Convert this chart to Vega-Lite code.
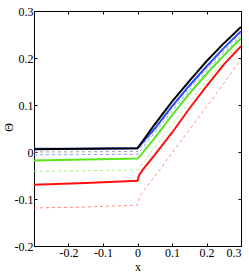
{
  "$schema": "https://vega.github.io/schema/vega-lite/v6.json",
  "width": 207,
  "height": 235,
  "autosize": {"type": "none"},
  "padding": {"left": 34, "top": 11, "right": 8, "bottom": 31},
  "background": "white",
  "config": {
    "view": {"stroke": "#000", "strokeWidth": 1},
    "axis": {
      "grid": false,
      "labelFont": "Liberation Sans Narrow",
      "labelFontSize": 12,
      "labelColor": "#000",
      "titleFont": "Liberation Sans Narrow",
      "titleFontSize": 12,
      "titleFontWeight": "normal",
      "titleColor": "#000",
      "domainColor": "#000",
      "tickColor": "#000",
      "tickSize": -3,
      "labelPadding": 4
    }
  },
  "data": {"values": [
    {"s": "1rd", "x": -0.3, "y": -0.119}, {"s": "1rd", "x": -0.15, "y": -0.117}, {"s": "1rd", "x": 0, "y": -0.113},
    {"s": "1rd", "x": 0.005, "y": -0.097}, {"s": "1rd", "x": 0.012, "y": -0.088}, {"s": "1rd", "x": 0.05, "y": -0.052},
    {"s": "1rd", "x": 0.1, "y": -0.002}, {"s": "1rd", "x": 0.15, "y": 0.047}, {"s": "1rd", "x": 0.2, "y": 0.096},
    {"s": "1rd", "x": 0.25, "y": 0.146}, {"s": "1rd", "x": 0.3, "y": 0.197},

    {"s": "2gd", "x": -0.3, "y": -0.041}, {"s": "2gd", "x": -0.15, "y": -0.04}, {"s": "2gd", "x": 0, "y": -0.038},
    {"s": "2gd", "x": 0.01, "y": -0.029}, {"s": "2gd", "x": 0.05, "y": 0.01}, {"s": "2gd", "x": 0.1, "y": 0.058},
    {"s": "2gd", "x": 0.15, "y": 0.106}, {"s": "2gd", "x": 0.2, "y": 0.151}, {"s": "2gd", "x": 0.25, "y": 0.193},
    {"s": "2gd", "x": 0.3, "y": 0.233},

    {"s": "3bd", "x": -0.3, "y": -0.006}, {"s": "3bd", "x": -0.15, "y": -0.0055}, {"s": "3bd", "x": 0, "y": -0.005},
    {"s": "3bd", "x": 0.05, "y": 0.041}, {"s": "3bd", "x": 0.1, "y": 0.087}, {"s": "3bd", "x": 0.15, "y": 0.131},
    {"s": "3bd", "x": 0.2, "y": 0.172}, {"s": "3bd", "x": 0.25, "y": 0.211}, {"s": "3bd", "x": 0.3, "y": 0.248},

    {"s": "4kd", "x": -0.3, "y": 0.0}, {"s": "4kd", "x": -0.15, "y": 0.0005}, {"s": "4kd", "x": 0, "y": 0.001},
    {"s": "4kd", "x": 0.05, "y": 0.046}, {"s": "4kd", "x": 0.1, "y": 0.093}, {"s": "4kd", "x": 0.15, "y": 0.136},
    {"s": "4kd", "x": 0.2, "y": 0.177}, {"s": "4kd", "x": 0.25, "y": 0.215}, {"s": "4kd", "x": 0.3, "y": 0.252},

    {"s": "5r", "x": -0.3, "y": -0.0695}, {"s": "5r", "x": -0.15, "y": -0.066}, {"s": "5r", "x": 0, "y": -0.061},
    {"s": "5r", "x": 0.005, "y": -0.049}, {"s": "5r", "x": 0.015, "y": -0.038}, {"s": "5r", "x": 0.05, "y": -0.006},
    {"s": "5r", "x": 0.1, "y": 0.041}, {"s": "5r", "x": 0.15, "y": 0.092}, {"s": "5r", "x": 0.2, "y": 0.14},
    {"s": "5r", "x": 0.25, "y": 0.186}, {"s": "5r", "x": 0.3, "y": 0.225},

    {"s": "6g", "x": -0.3, "y": -0.018}, {"s": "6g", "x": -0.15, "y": -0.016}, {"s": "6g", "x": 0, "y": -0.014},
    {"s": "6g", "x": 0.01, "y": -0.006}, {"s": "6g", "x": 0.05, "y": 0.03}, {"s": "6g", "x": 0.1, "y": 0.078},
    {"s": "6g", "x": 0.15, "y": 0.124}, {"s": "6g", "x": 0.2, "y": 0.166}, {"s": "6g", "x": 0.25, "y": 0.205},
    {"s": "6g", "x": 0.3, "y": 0.242},

    {"s": "7b", "x": -0.3, "y": 0.007}, {"s": "7b", "x": -0.15, "y": 0.007}, {"s": "7b", "x": 0, "y": 0.008},
    {"s": "7b", "x": 0.05, "y": 0.05}, {"s": "7b", "x": 0.1, "y": 0.097}, {"s": "7b", "x": 0.15, "y": 0.141},
    {"s": "7b", "x": 0.2, "y": 0.182}, {"s": "7b", "x": 0.25, "y": 0.221}, {"s": "7b", "x": 0.3, "y": 0.257},

    {"s": "8k", "x": -0.3, "y": 0.006}, {"s": "8k", "x": -0.15, "y": 0.007}, {"s": "8k", "x": 0, "y": 0.008},
    {"s": "8k", "x": 0.05, "y": 0.059}, {"s": "8k", "x": 0.1, "y": 0.107}, {"s": "8k", "x": 0.15, "y": 0.151},
    {"s": "8k", "x": 0.2, "y": 0.193}, {"s": "8k", "x": 0.25, "y": 0.231}, {"s": "8k", "x": 0.3, "y": 0.266}
  ]},
  "resolve": {"axis": {"x": "independent", "y": "independent"}},
  "layer": [
    {
      "transform": [{"filter": {"field": "s", "oneOf": ["1rd", "2gd", "3bd", "4kd"]}}],
      "mark": {"type": "line", "clip": true, "strokeWidth": 1, "strokeDash": [3, 3]},
      "encoding": {
        "x": {"field": "x", "type": "quantitative", "scale": {"domain": [-0.3, 0.3], "nice": false, "zero": false},
              "axis": {"title": "x", "values": [-0.2, -0.1, 0, 0.1, 0.2, 0.3], "format": "~g", "titlePadding": 3,
                       "labelExpr": "replace(datum.label, '−', '-')"}},
        "y": {"field": "y", "type": "quantitative", "scale": {"domain": [-0.2, 0.3], "nice": false, "zero": false},
              "axis": {"title": "Θ", "values": [-0.2, -0.1, 0, 0.1, 0.2, 0.3], "format": "~g",
                       "labelExpr": "replace(datum.label, '−', '-')",
                       "titleX": -26, "titleY": 116, "titleAngle": -90, "titleAlign": "center", "titleBaseline": "middle"}},
        "color": {"field": "s", "type": "nominal", "legend": null,
                  "scale": {"domain": ["1rd", "2gd", "3bd", "4kd", "5r", "6g", "7b", "8k"],
                            "range": ["#ff8a8a", "#a6f08a", "#8c9cff", "#a0a0a0", "#ff1010", "#5ae61e", "#2a4cff", "#000000"]}}
      }
    },
    {
      "transform": [{"filter": {"field": "s", "oneOf": ["5r", "6g", "7b", "8k"]}}],
      "mark": {"type": "line", "clip": true, "strokeWidth": 2},
      "encoding": {
        "x": {"field": "x", "type": "quantitative", "scale": {"domain": [-0.3, 0.3], "nice": false, "zero": false},
              "axis": null},
        "y": {"field": "y", "type": "quantitative", "scale": {"domain": [-0.2, 0.3], "nice": false, "zero": false},
              "axis": null},
        "color": {"field": "s", "type": "nominal", "legend": null}
      }
    },
    {
      "mark": {"type": "point", "opacity": 0},
      "encoding": {
        "x": {"field": "x", "type": "quantitative", "scale": {"domain": [-0.3, 0.3], "nice": false, "zero": false},
              "axis": {"orient": "top", "title": null, "labels": false, "values": [-0.2, -0.1, 0, 0.1, 0.2, 0.3]}},
        "y": {"field": "y", "type": "quantitative", "scale": {"domain": [-0.2, 0.3], "nice": false, "zero": false},
              "axis": {"orient": "right", "title": null, "labels": false, "values": [-0.2, -0.1, 0, 0.1, 0.2, 0.3]}}
      }
    }
  ]
}
